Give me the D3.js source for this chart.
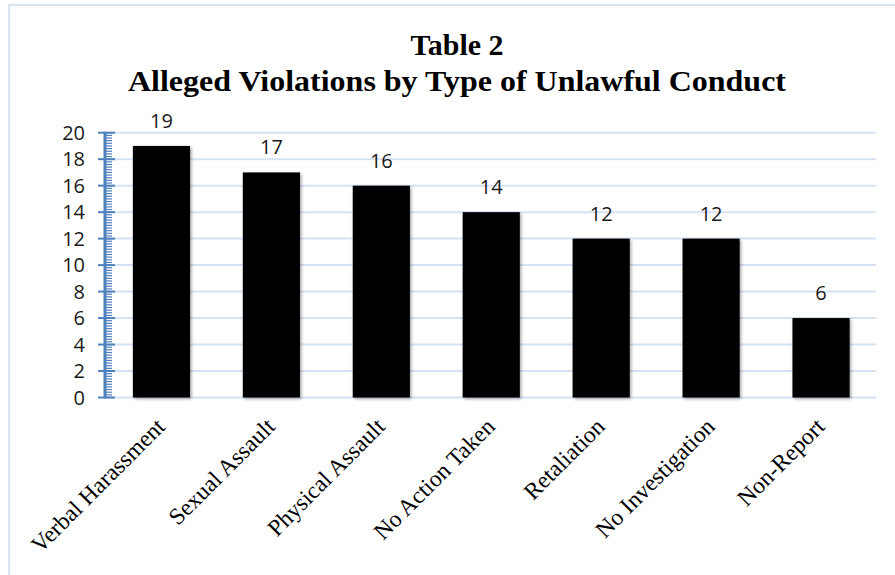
<!DOCTYPE html>
<html><head><meta charset="utf-8">
<script src="https://cdn.jsdelivr.net/npm/d3@7"></script>
<style>
body{margin:0;background:#fff;}
svg{display:block;}
</style></head>
<body>
<script>
const categories = ["Verbal Harassment","Sexual Assault","Physical Assault","No Action Taken","Retaliation","No Investigation","Non-Report"];
const values = [19,17,16,14,12,12,6];
const yTicks = [0,2,4,6,8,10,12,14,16,18,20];
const titleLines = ["Table 2","Alleged Violations by Type of Unlawful Conduct"];

const W = 895, H = 575;
const svg = d3.select("body").append("svg").attr("width",W).attr("height",H);
const defs = svg.append("defs");
const f = defs.append("filter").attr("id","sh").attr("x","-20%").attr("y","-20%").attr("width","150%").attr("height","150%");
f.append("feDropShadow").attr("dx",1.5).attr("dy",1.5).attr("stdDeviation",1.5).attr("flood-color","#000").attr("flood-opacity",0.35);

// outer frame
svg.append("rect").attr("x",9).attr("y",5).attr("width",W).attr("height",H)
  .attr("fill","#fff").attr("stroke","#dbe5f1").attr("stroke-width",2);

const x = d3.scaleBand().domain(categories).range([106.5,876]).paddingInner(0.48).paddingOuter(0.24);
const y = d3.scaleLinear().domain([0,20]).range([397.5,132.7]);

// gridlines
svg.append("g").selectAll("line").data(yTicks).join("line")
  .attr("x1",107).attr("x2",876).attr("y1",d=>y(d)).attr("y2",d=>y(d))
  .attr("stroke","#d6e2f3").attr("stroke-width",2);

// bars
svg.append("g").selectAll("rect").data(values).join("rect")
  .attr("x",(d,i)=>x(categories[i])).attr("width",x.bandwidth())
  .attr("y",d=>y(d)).attr("height",d=>y(0)-y(d))
  .attr("fill","#000").attr("filter","url(#sh)");

// y axis
const ax = svg.append("g");
const minor = d3.range(0,20.001,0.2);
ax.selectAll("line.mn").data(minor).join("line").attr("class","mn")
  .attr("x1",105).attr("x2",112).attr("y1",d=>y(d)).attr("y2",d=>y(d))
  .attr("stroke","#4f81bd").attr("stroke-width",1.2);
ax.selectAll("line.mj").data(yTicks).join("line").attr("class","mj")
  .attr("x1",98).attr("x2",115).attr("y1",d=>y(d)).attr("y2",d=>y(d))
  .attr("stroke","#4f81bd").attr("stroke-width",2);
ax.append("line").attr("x1",105).attr("x2",105).attr("y1",y(20)-1).attr("y2",y(0)+1)
  .attr("stroke","#4f81bd").attr("stroke-width",3);
ax.selectAll("text").data(yTicks).join("text")
  .attr("x",85).attr("y",d=>y(d)).attr("dy","0.36em").attr("text-anchor","end")
  .attr("font-family","Open Sans").attr("font-size",20).attr("fill","#1a1a1a")
  .text(d=>d);

// value labels
svg.append("g").selectAll("text").data(values).join("text")
  .attr("x",(d,i)=>x(categories[i])+x.bandwidth()/2).attr("y",d=>y(d)-18)
  .attr("text-anchor","middle").attr("font-family","Open Sans").attr("font-size",20).attr("fill","#1a1a1a")
  .text(d=>d);

// category labels
svg.append("g").selectAll("text").data(categories).join("text")
  .attr("transform",d=>`translate(${x(d)+x.bandwidth()/2+5},428) rotate(-45)`)
  .attr("text-anchor","end").attr("font-family","Liberation Serif").attr("font-size",23.5).attr("fill","#000")
  .text(d=>d);

// title
const titleW = [93, 658];
svg.append("g").selectAll("text").data(titleLines).join("text")
  .attr("x",457).attr("y",(d,i)=>55+i*36).attr("text-anchor","middle")
  .attr("font-family","Liberation Serif").attr("font-weight","bold").attr("font-size",29).attr("fill","#000")
  .attr("textLength",(d,i)=>titleW[i]).attr("lengthAdjust","spacingAndGlyphs")
  .text(d=>d);
</script>
</body></html>
